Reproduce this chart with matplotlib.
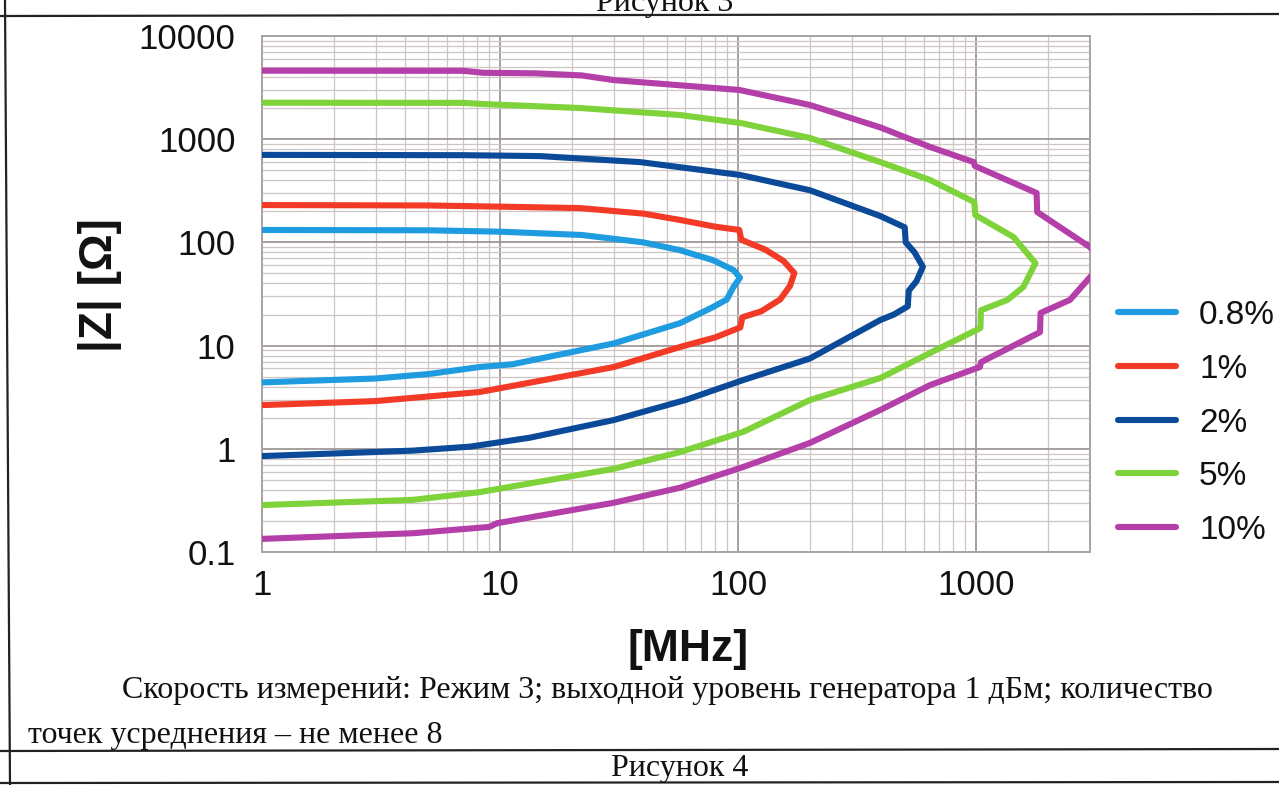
import matplotlib
matplotlib.use("Agg")
import matplotlib.pyplot as plt
from matplotlib.lines import Line2D

# ---------------- data ----------------
labels = ["0.8%", "1%", "2%", "5%", "10%"]
colors = ["#1f9be0", "#f23a26", "#0b4a98", "#7ed23a", "#b43fa8"]

f_08 = [1, 5, 10, 22, 40, 57, 78, 95.5, 101.7, 95.5, 89.5, 78.5, 57, 30, 11.3, 8.2, 5, 3, 1]
z_08 = [132, 131, 127, 118, 100, 84, 67.5, 54, 45.5, 37, 28, 23.7, 16.5, 10.5, 6.6, 6.2, 5.3, 4.8, 4.4]

f_1 = [1, 5, 10, 21.7, 40, 57, 80, 101, 103, 130, 155, 172, 165, 150, 125, 104, 102, 80, 57, 30, 15, 8.2, 3, 1]
z_1 = [230, 228, 222, 215, 190, 165, 142, 132, 106, 85, 66, 50.5, 38, 28, 21.5, 18.8, 15, 12, 9.7, 6.2, 4.6, 3.55, 2.9, 2.65]

f_2 = [1, 7, 14.7, 38.7, 102, 200, 395, 500, 505, 550, 596, 560, 520, 515, 450, 395, 200, 105, 60, 30, 13.3, 7.5, 4.3, 1]
z_2 = [705, 700, 686, 600, 450, 320, 180, 140, 100, 80, 58, 42, 34, 24, 20, 17.7, 7.5, 4.64, 2.97, 1.9, 1.28, 1.05, 0.96, 0.85]

f_5 = [1, 7, 8.5, 21.7, 57, 102, 200, 395, 640, 980, 990, 1430, 1770, 1575, 1350, 1045, 1040, 640, 395, 200, 105, 57, 30, 8.2, 4.3, 1]
z_5 = [2257, 2250, 2190, 2005, 1715, 1437, 1028, 600, 402, 246, 184, 113, 63, 37, 27.7, 22, 14.8, 8.5, 4.85, 2.97, 1.46, 0.93, 0.64, 0.38, 0.32, 0.285]

f_10 = [1, 7, 8.5, 14, 22, 30, 101, 200, 395, 640, 975, 985, 1790, 1800, 3000, 3400,
        3000, 2470, 1860, 1850, 1045, 1035, 640, 395, 200, 105, 57, 30, 9.7, 9, 4.3, 1]
z_10 = [4610, 4600, 4400, 4350, 4150, 3740, 3000, 2145, 1300, 840, 600, 550, 301, 197, 90, 64,
        46, 27.7, 20.7, 13.5, 6.9, 6.2, 4.15, 2.38, 1.14, 0.667, 0.42, 0.30, 0.19, 0.175, 0.152, 0.134]

freqs = [f_08, f_1, f_2, f_5, f_10]
imps = [z_08, z_1, z_2, z_5, z_10]

x_ticks = [1, 10, 100, 1000]
x_ticklabels = ["1", "10", "100", "1000"]
y_ticks = [0.1, 1, 10, 100, 1000, 10000]
y_ticklabels = ["0.1", "1", "10", "100", "1000", "10000"]

caption_line1 = "Скорость измерений: Режим 3; выходной уровень генератора 1 дБм; количество"
caption_line2 = "точек усреднения – не менее 8"
fig_top = "Рисунок 3"
fig_bottom = "Рисунок 4"

# ---------------- figure ----------------
W, H = 1279, 785
fig = plt.figure(figsize=(W / 100, H / 100), dpi=100)
fig.patch.set_facecolor("white")

SANS = ["Liberation Sans", "DejaVu Sans"]
SERIF = ["Liberation Serif", "DejaVu Serif"]
INK = "#111111"

def fx(px):
    return px / W

def fy(py):
    return 1 - py / H

ax = fig.add_axes([fx(262), fy(552), fx(1090) - fx(262), fy(36) - fy(552)])
ax.set_xscale("log")
ax.set_yscale("log")
ax.set_xlim(1, 3000)
ax.set_ylim(0.1, 10000)

ax.grid(which="minor", color="#cfc5c5", lw=0.9)
ax.grid(which="major", color="#9f9797", lw=1.3)
ax.set_axisbelow(True)
for s in ax.spines.values():
    s.set_color("#a9a3a3")
    s.set_linewidth(1.4)

for f, z, c, lab in zip(freqs, imps, colors, labels):
    ax.plot(f, z, color=c, lw=4.4, solid_capstyle="round", solid_joinstyle="round",
            label=lab, zorder=3)

ax.set_xticks(x_ticks)
ax.set_xticklabels(x_ticklabels)
ax.set_yticks(y_ticks)
ax.set_yticklabels(y_ticklabels)
ax.tick_params(which="both", length=0)
ax.tick_params(axis="x", pad=12)
ax.tick_params(axis="y", pad=19)
for t in ax.get_xticklabels() + ax.get_yticklabels():
    t.set_family(SANS)
    t.set_fontsize(25)
    t.set_color(INK)

# axis titles
fig.text(fx(100), fy(285), "|Z| [Ω]", rotation=90, ha="center", va="center",
         family=SANS, fontsize=33, fontweight="bold", color=INK)
fig.text(fx(688), fy(650), "[MHz]", ha="center", va="center",
         family=SANS, fontsize=32, fontweight="bold", color=INK)

# legend
handles = [Line2D([0], [0], color=c, lw=4.4, solid_capstyle="round") for c in colors]
leg = fig.legend(handles, labels, loc="center left", bbox_to_anchor=(fx(1118), fy(423)),
                 frameon=False, prop={"family": SANS, "size": 24},
                 handlelength=1.75, handletextpad=0.68, labelspacing=0.68,
                 borderpad=0, borderaxespad=0)
for t in leg.get_texts():
    t.set_color(INK)

# document text and table frame
fig.text(fx(665), fy(11), fig_top, ha="center", va="baseline", family=SERIF,
         fontsize=23, color=INK)
fig.text(fx(122), fy(698), caption_line1, ha="left", va="baseline", family=SERIF,
         fontsize=23, color=INK)
fig.text(fx(28), fy(743), caption_line2, ha="left", va="baseline", family=SERIF,
         fontsize=23, color=INK)
fig.text(fx(680), fy(776), fig_bottom, ha="center", va="baseline", family=SERIF,
         fontsize=23, color=INK)

frame_kw = dict(color="#222222", lw=1.6, transform=fig.transFigure)
fig.add_artist(Line2D([0, 1], [fy(16), fy(14)], **frame_kw))
fig.add_artist(Line2D([0, 1], [fy(751), fy(749)], **frame_kw))
fig.add_artist(Line2D([0, 1], [fy(783), fy(782)], **frame_kw))
fig.add_artist(Line2D([fx(5), fx(10)], [1, 0], **frame_kw))

fig.savefig("out.png", dpi=100)
